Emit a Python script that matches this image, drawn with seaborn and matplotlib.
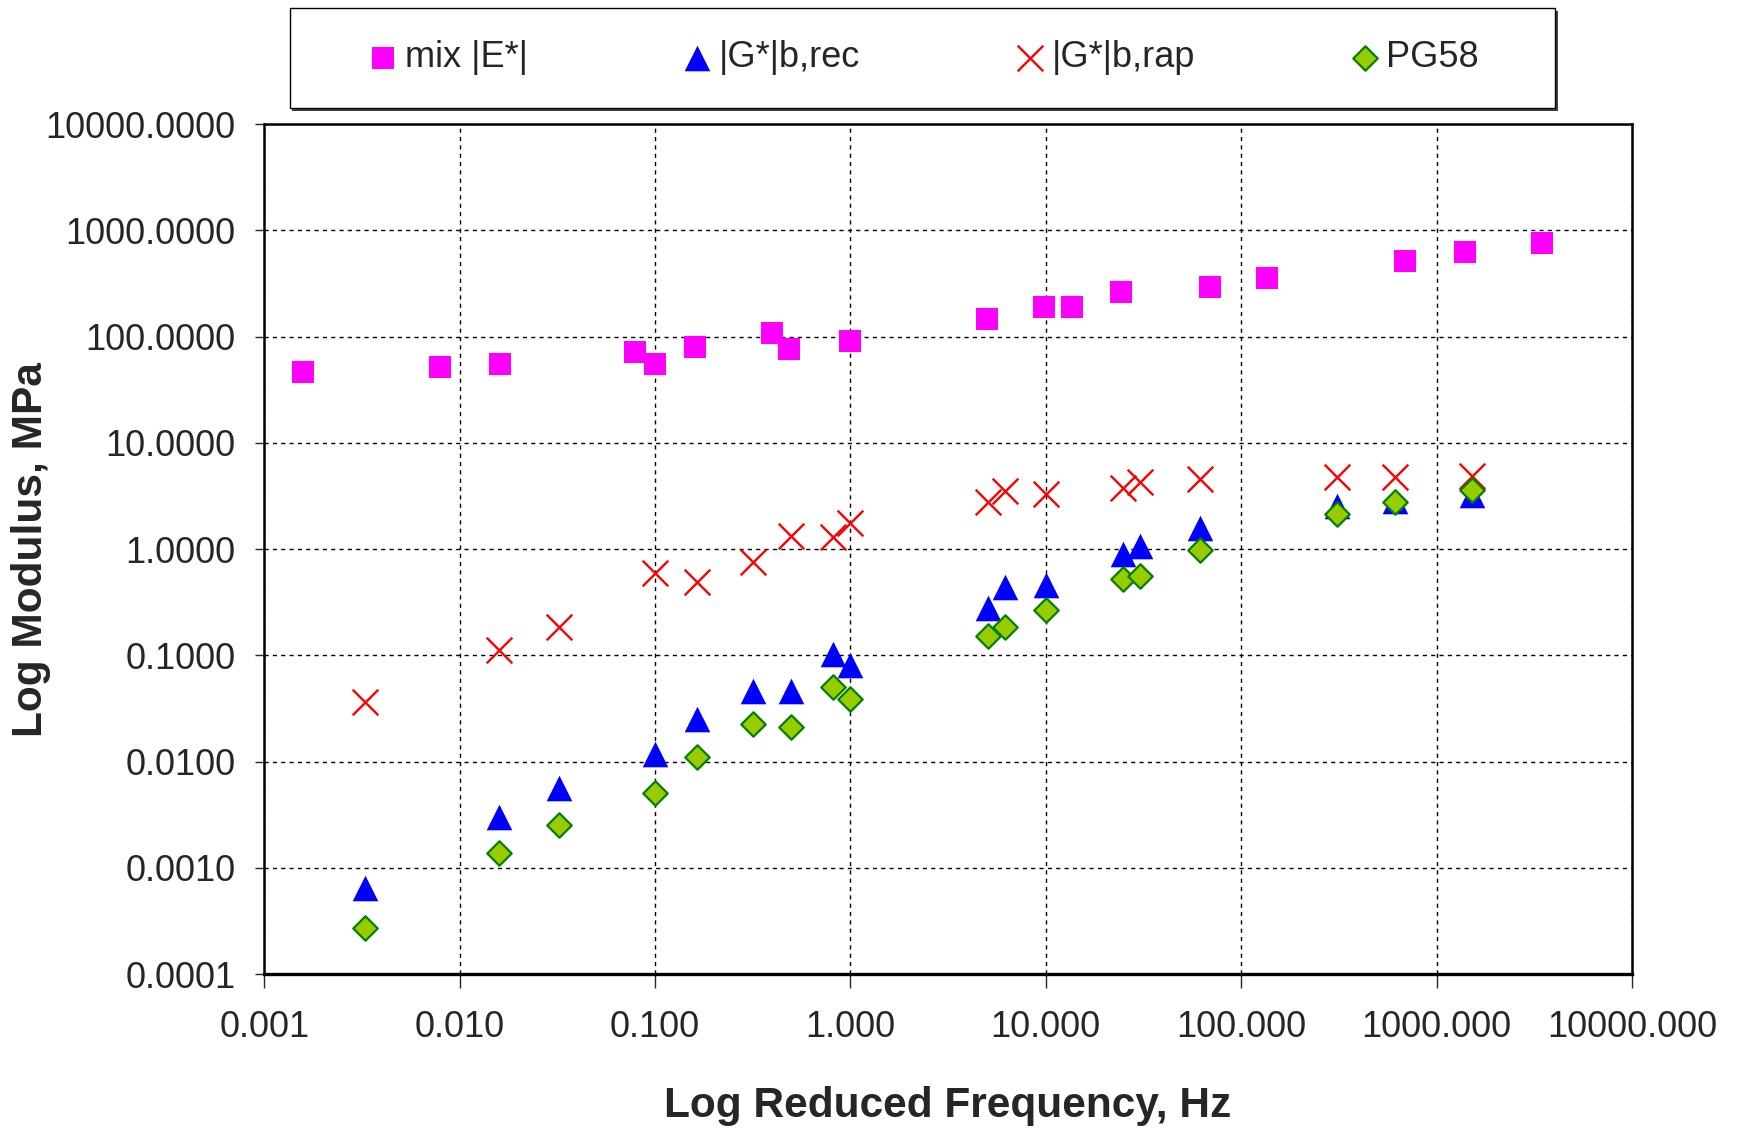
import numpy as np
import matplotlib
matplotlib.use('Agg')
import matplotlib.pyplot as plt
import matplotlib.ticker as mticker
from matplotlib.patches import Rectangle
import seaborn as sns

# mixture dynamic modulus
freq_mix = [0.00157, 0.0079, 0.0161, 0.0785, 0.1, 0.16, 0.398, 0.486, 1.0,
            5.03, 9.8, 13.7, 24.4, 69.5, 136, 686, 1395, 3480]
mix_E = [46.3, 52.3, 55.3, 71.4, 55.3, 80.6, 109, 76.2, 91.8,
         148, 192, 192, 262, 294, 360, 516, 628, 757]

# binder shear modulus
freq_binder = [0.00327, 0.0158, 0.0321, 0.1, 0.163, 0.318, 0.496, 0.818, 1.0,
               5.06, 6.21, 10.0, 24.7, 30.4, 61.7, 311, 612, 1517]
G_rec = [0.000644, 0.00304, 0.00562, 0.0118, 0.0251, 0.0463, 0.0463, 0.103, 0.0815,
         0.278, 0.438, 0.461, 0.90, 1.08, 1.57, 2.55, 2.85, 3.24]
G_rap = [0.0367, 0.113, 0.187, 0.601, 0.495, 0.764, 1.33, 1.31, 1.78,
         2.79, 3.56, 3.33, 3.75, 4.30, 4.55, 4.82, 4.82, 4.89]
PG58 = [0.000271, 0.00138, 0.00254, 0.00505, 0.0112, 0.0226, 0.0211, 0.0509, 0.039,
        0.154, 0.185, 0.268, 0.525, 0.56, 0.984, 2.13, 2.77, 3.61]

labels = ['mix |E*|', '|G*|b,rec', '|G*|b,rap', 'PG58']

sns.set_style('ticks')
plt.rcParams['font.family'] = ['Liberation Sans', 'DejaVu Sans']

fig = plt.figure(figsize=(17.39, 11.28), dpi=100)
ax = fig.add_axes([0.152, 0.1363, 0.7864, 0.7536])

sns.scatterplot(x=freq_mix, y=mix_E, marker='s', color='#FF00FF', s=245,
                linewidth=0, label=labels[0], ax=ax, zorder=3)
sns.scatterplot(x=freq_binder, y=G_rec, marker='^', color='#0000FF', s=340,
                linewidth=0, label=labels[1], ax=ax, zorder=3)
sns.scatterplot(x=freq_binder, y=G_rap, marker='x', color='#FF0000', s=340,
                linewidth=1.7, label=labels[2], ax=ax, zorder=3)
sns.scatterplot(x=freq_binder, y=PG58, marker='D', color='#99CC00', s=155,
                edgecolor='#008000', linewidth=1.6, label=labels[3], ax=ax, zorder=3)

ax.set_xscale('log')
ax.set_yscale('log')
ax.set_xlim(0.001, 10000)
ax.set_ylim(0.0001, 10000)
ax.xaxis.set_major_locator(mticker.LogLocator(base=10, numticks=20))
ax.yaxis.set_major_locator(mticker.LogLocator(base=10, numticks=20))
ax.xaxis.set_minor_locator(mticker.NullLocator())
ax.yaxis.set_minor_locator(mticker.NullLocator())
ax.xaxis.set_major_formatter(mticker.FuncFormatter(lambda v, p: f'{v:.3f}'))
ax.yaxis.set_major_formatter(mticker.FuncFormatter(lambda v, p: f'{v:.4f}'))

ax.grid(True, which='major', color='black', linestyle=(0, (3, 3)), linewidth=1)
ax.set_axisbelow(True)
for sp in ax.spines.values():
    sp.set_visible(True)
    sp.set_color('black')
    sp.set_linewidth(1.8)
ax.spines['bottom'].set_linewidth(2.4)

ax.tick_params(axis='y', direction='out', length=6.5, width=1, pad=14, labelsize=26)
ax.tick_params(axis='x', direction='out', length=10, width=1, pad=16, labelsize=26)

ax.set_xlabel('Log Reduced Frequency, Hz', fontsize=30.5, fontweight='bold')
ax.set_ylabel('Log Modulus, MPa', fontsize=30.5, fontweight='bold')
ax.xaxis.set_label_coords(0.5, -0.1545)
ax.xaxis.label.set_va('center')
ax.yaxis.set_label_coords(-0.1706, 0.5)
ax.yaxis.label.set_va('center')

handles, labs = ax.get_legend_handles_labels()
if ax.get_legend() is not None:
    ax.get_legend().remove()

# legend frame with shadow
fig.patches.append(Rectangle((0.1665 + 0.0017, 0.9046 - 0.0027), 0.7276, 0.0885,
                             transform=fig.transFigure, facecolor='#404040',
                             edgecolor='none', zorder=0))
fig.patches.append(Rectangle((0.1665, 0.9046), 0.7276, 0.0885,
                             transform=fig.transFigure, facecolor='white',
                             edgecolor='black', linewidth=1.0, zorder=1))

fig.legend(handles, labs, loc='center', bbox_to_anchor=(0.212, 0.9046, 0.6385, 0.0885),
           mode='expand', ncol=4, frameon=False, fontsize=26, handlelength=0.8,
           handletextpad=0.2, borderpad=0, borderaxespad=0, scatterpoints=1)

fig.savefig('out.png', dpi=100)
